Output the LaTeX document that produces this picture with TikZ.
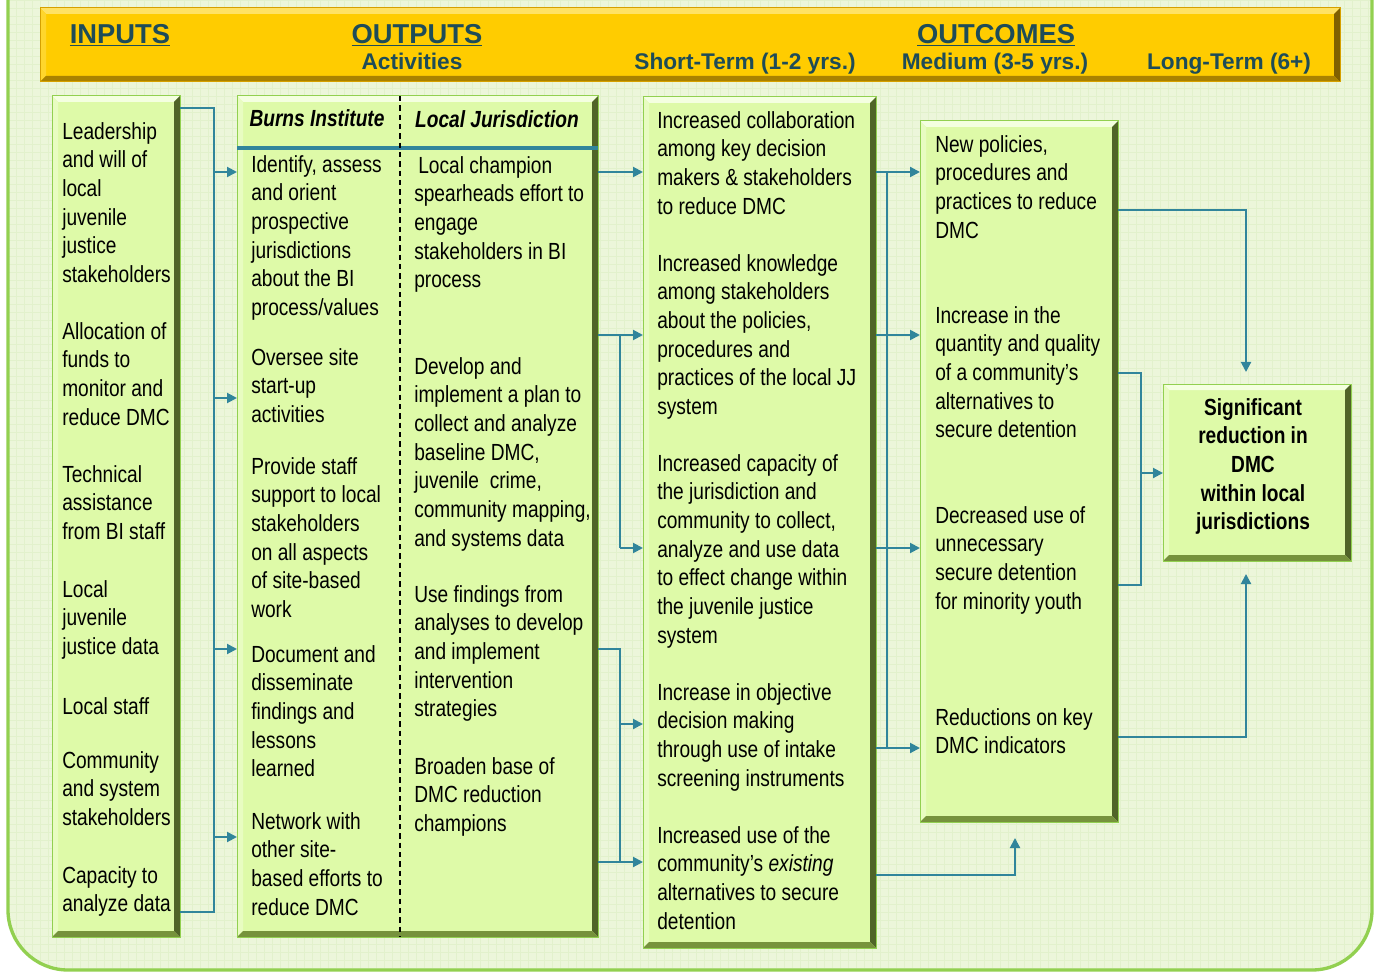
\documentclass[tikz,border=0pt]{standalone}
\usepackage{fontspec}
\setmainfont{Liberation Sans}[FakeStretch=0.82]
\newfontfamily\hdrfont{Liberation Sans}
\usetikzlibrary{arrows.meta,fit}
\definecolor{bgc}{RGB}{236,246,218}
\definecolor{gridc}{RGB}{226,241,204}
\definecolor{framec}{RGB}{146,208,80}
\definecolor{boxfill}{RGB}{222,250,168}
\definecolor{boxR}{RGB}{80,100,40}
\definecolor{boxB}{RGB}{118,146,60}
\definecolor{boxT}{RGB}{244,255,224}
\definecolor{boxE}{RGB}{146,208,80}
\definecolor{goldc}{RGB}{255,204,0}
\definecolor{goldR}{RGB}{128,96,0}
\definecolor{goldB}{RGB}{170,130,0}
\definecolor{goldT}{RGB}{255,226,100}
\definecolor{goldE}{RGB}{214,160,0}
\definecolor{hdrtext}{RGB}{30,76,88}
\definecolor{tealc}{RGB}{49,133,155}
\def\bvw{4.5pt}
\tikzset{
  bevel/.style n args={5}{fill=#1, draw=#5, line width=0.75pt, inner sep=0pt, outer sep=0pt,
    path picture={
      \fill[#4] (path picture bounding box.north west) -- (path picture bounding box.north east)
        -- ([shift={(-\bvw,-\bvw)}]path picture bounding box.north east)
        -- ([shift={(\bvw,-\bvw)}]path picture bounding box.north west) -- cycle;
      \fill[#4!45!#1] (path picture bounding box.north west) -- (path picture bounding box.south west)
        -- ([shift={(\bvw,\bvw)}]path picture bounding box.south west)
        -- ([shift={(\bvw,-\bvw)}]path picture bounding box.north west) -- cycle;
      \fill[#2] (path picture bounding box.north east) -- (path picture bounding box.south east)
        -- ([shift={(-\bvw,\bvw)}]path picture bounding box.south east)
        -- ([shift={(-\bvw,-\bvw)}]path picture bounding box.north east) -- cycle;
      \fill[#3] (path picture bounding box.south west) -- (path picture bounding box.south east)
        -- ([shift={(-\bvw,\bvw)}]path picture bounding box.south east)
        -- ([shift={(\bvw,\bvw)}]path picture bounding box.south west) -- cycle;
    }},
  lbox/.style={bevel={boxfill}{boxR}{boxB}{boxT}{boxE}},
  gbox/.style={bevel={goldc}{goldR}{goldB}{goldT}{goldE}},
  txt/.style={anchor=north west, inner sep=0pt, align=left, yshift=-2.25pt,
    font=\fontsize{17.5pt}{21.5pt}\selectfont, execute at begin node=\strut},
  ctxt/.style={anchor=north, inner sep=0pt, align=center, yshift=-1.5pt,
    font=\fontsize{17.5pt}{21.5pt}\selectfont\bfseries, execute at begin node=\strut},
  colhead/.style={anchor=center, inner sep=0pt, font=\fontsize{17.5pt}{21pt}\selectfont\bfseries\itshape},
  hbig/.style={inner sep=0pt, text=hdrtext, yshift=-1.5pt, font=\hdrfont\fontsize{20.5pt}{24pt}\selectfont\bfseries},
  hsmall/.style={inner sep=0pt, anchor=base, text=hdrtext, font=\hdrfont\fontsize{17pt}{20pt}\selectfont\bfseries},
  conn/.style={draw=tealc, line width=1.5pt},
  arr/.style={conn, -{Triangle[length=7.5pt,width=7.5pt]}},
}
\begin{document}
\begin{tikzpicture}[x=0.75pt,y=-0.75pt]
\useasboundingbox (0,0) rectangle (1377,973);
\fill[white] (0,0) rectangle (1377,973);
\begin{scope}
  \clip[rounded corners=45pt] (8,-80) rectangle (1372,970);
  \fill[bgc] (0,-80) rectangle (1377,973);
  \draw[gridc, line width=0.35pt, step=6pt] (0,-80) grid (1377,973);
\end{scope}
\draw[framec, line width=2.5pt, rounded corners=45pt] (8,-80) rectangle (1372,970);

% header bar
\node[gbox, fit={(40,8)(1340,82)}] (hdr) {};
\node[hbig] (tin) at (120,33) {\underline{INPUTS}};
\node[hbig] (tout) at (417,33) {\underline{OUTPUTS}};
\node[hsmall] (tact) at (412,70) {Activities};
\node[hbig] (toc) at (996,33) {\underline{OUTCOMES}};
\node[hsmall] (tshort) at (745,70) {Short-Term (1-2 yrs.)};
\node[hsmall] (tmed) at (995,70) {Medium (3-5 yrs.)};
\node[hsmall] (tlong) at (1229,70) {Long-Term (6+)};

% column boxes
\node[lbox, fit={(52,96)(180,937)}] (inputs) {};
\node[lbox, fit={(237,96)(598,937)}] (acts) {};
\node[lbox, fit={(643,97)(876,948)}] (short) {};
\node[lbox, fit={(920,121)(1118,822)}] (medium) {};
\node[lbox, fit={(1163,384)(1351,561)}] (long) {};

% activities header
\draw[tealc, line width=3.5pt] (acts.west |- 0,148) -- (acts.east |- 0,148);
\draw[black, line width=1.1pt, dash pattern=on 4pt off 3pt] (400,0 |- acts.north) -- (400,0 |- acts.south);
\node[colhead] (hbi) at (317,118) {Burns Institute};
\node[colhead] (hlj) at (497,119) {Local Jurisdiction};

% inputs
\node[txt] (i1) at (62,119) {Leadership\\and will of\\local\\juvenile\\justice\\stakeholders};
\node[txt] (i2) at (62,319) {Allocation of\\funds to\\monitor and\\reduce DMC};
\node[txt] (i3) at (62,462) {Technical\\assistance\\from BI staff};
\node[txt] (i4) at (62,577) {Local\\juvenile\\justice data};
\node[txt] (i5) at (62,691) {Local staff};
\node[txt] (i6) at (62,748) {Community\\and system\\stakeholders};
\node[txt] (i7) at (62,863) {Capacity to\\analyze data};

% Burns Institute activities
\node[txt] (b1) at (251,152) {Identify, assess\\and orient\\prospective\\jurisdictions\\about the BI\\process/values};
\node[txt] (b2) at (251,345) {Oversee site\\start-up\\activities};
\node[txt] (b3) at (251,454) {Provide staff\\support to local\\stakeholders\\on all aspects\\of site-based\\work};
\node[txt] (b4) at (251,642) {Document and\\disseminate\\findings and\\lessons\\learned};
\node[txt] (b5) at (251,809) {Network with\\other site-\\based efforts to\\reduce DMC};

% Local Jurisdiction activities
\node[txt] (l1) at (414,153) {\hspace{3pt}Local champion\\spearheads effort to\\engage\\stakeholders in BI\\process};
\node[txt] (l2) at (414,354) {Develop and\\implement a plan to\\collect and analyze\\baseline DMC,\\juvenile~ crime,\\community mapping,\\and systems data};
\node[txt] (l3) at (414,582) {Use findings from\\analyses to develop\\and implement\\intervention\\strategies};
\node[txt] (l4) at (414,754) {Broaden base of\\DMC reduction\\champions};

% short-term
\node[txt] (s1) at (657,108) {Increased collaboration\\among key decision\\makers \& stakeholders\\to reduce DMC};
\node[txt] (s2) at (657,251) {Increased knowledge\\among stakeholders\\about the policies,\\procedures and\\practices of the local JJ\\system};
\node[txt] (s3) at (657,451) {Increased capacity of\\the jurisdiction and\\community to collect,\\analyze and use data\\to effect change within\\the juvenile justice\\system};
\node[txt] (s4) at (657,680) {Increase in objective\\decision making\\through use of intake\\screening instruments};
\node[txt] (s5) at (657,823) {Increased use of the\\community’s \textit{existing}\\alternatives to secure\\detention};

% medium
\node[txt] (m1) at (935,132) {New policies,\\procedures and\\practices to reduce\\DMC};
\node[txt] (m2) at (935,303) {Increase in the\\quantity and quality\\of a community’s\\alternatives to\\secure detention};
\node[txt] (m3) at (935,503) {Decreased use of\\unnecessary\\secure detention\\for minority youth};
\node[txt] (m4) at (935,705) {Reductions on key\\DMC indicators};

% long-term
\node[ctxt] (lt) at (1253,396) {Significant\\reduction in\\DMC\\within local\\jurisdictions};

% connectors: inputs -> activities
\coordinate (lb) at (214,0);
\draw[conn] (inputs.east |- 0,108) -| (lb |- 0,912) -- (inputs.east |- 0,912);
\foreach \yy in {172,398,649,837} \draw[arr] (lb |- 0,\yy) -- (acts.west |- 0,\yy);

% activities -> short-term
\coordinate (mb) at (620,0);
\draw[arr] (acts.east |- 0,172) -- (short.west |- 0,172);
\draw[arr] (acts.east |- 0,335) -- (short.west |- 0,335);
\draw[conn] (mb |- 0,335) -- (mb |- 0,548);
\draw[arr] (mb |- 0,548) -- (short.west |- 0,548);
\draw[conn] (acts.east |- 0,649) -| (mb |- 0,862);
\draw[arr] (acts.east |- 0,862) -- (short.west |- 0,862);
\draw[arr] (mb |- 0,724) -- (short.west |- 0,724);

% short-term -> medium
\coordinate (rb) at (887,0);
\draw[conn] (rb |- 0,172) -- (rb |- 0,748);
\foreach \yy in {172,335,548,748} \draw[arr] (short.east |- 0,\yy) -- (medium.west |- 0,\yy);
\coordinate (mtip) at (1015,838);
\draw[arr] (short.east |- 0,875) -| (mtip);

% medium -> long-term
\coordinate (ltip1) at (1246,372);
\coordinate (ltip2) at (1246,574);
\coordinate (fb) at (1141,0);
\draw[arr] (medium.east |- 0,210) -| (ltip1);
\draw[arr] (medium.east |- 0,737) -| (ltip2);
\draw[conn] (medium.east |- 0,373) -| (fb |- 0,585) -- (medium.east |- 0,585);
\draw[arr] (fb |- 0,473) -- (long.west |- 0,473);
\end{tikzpicture}
\end{document}
